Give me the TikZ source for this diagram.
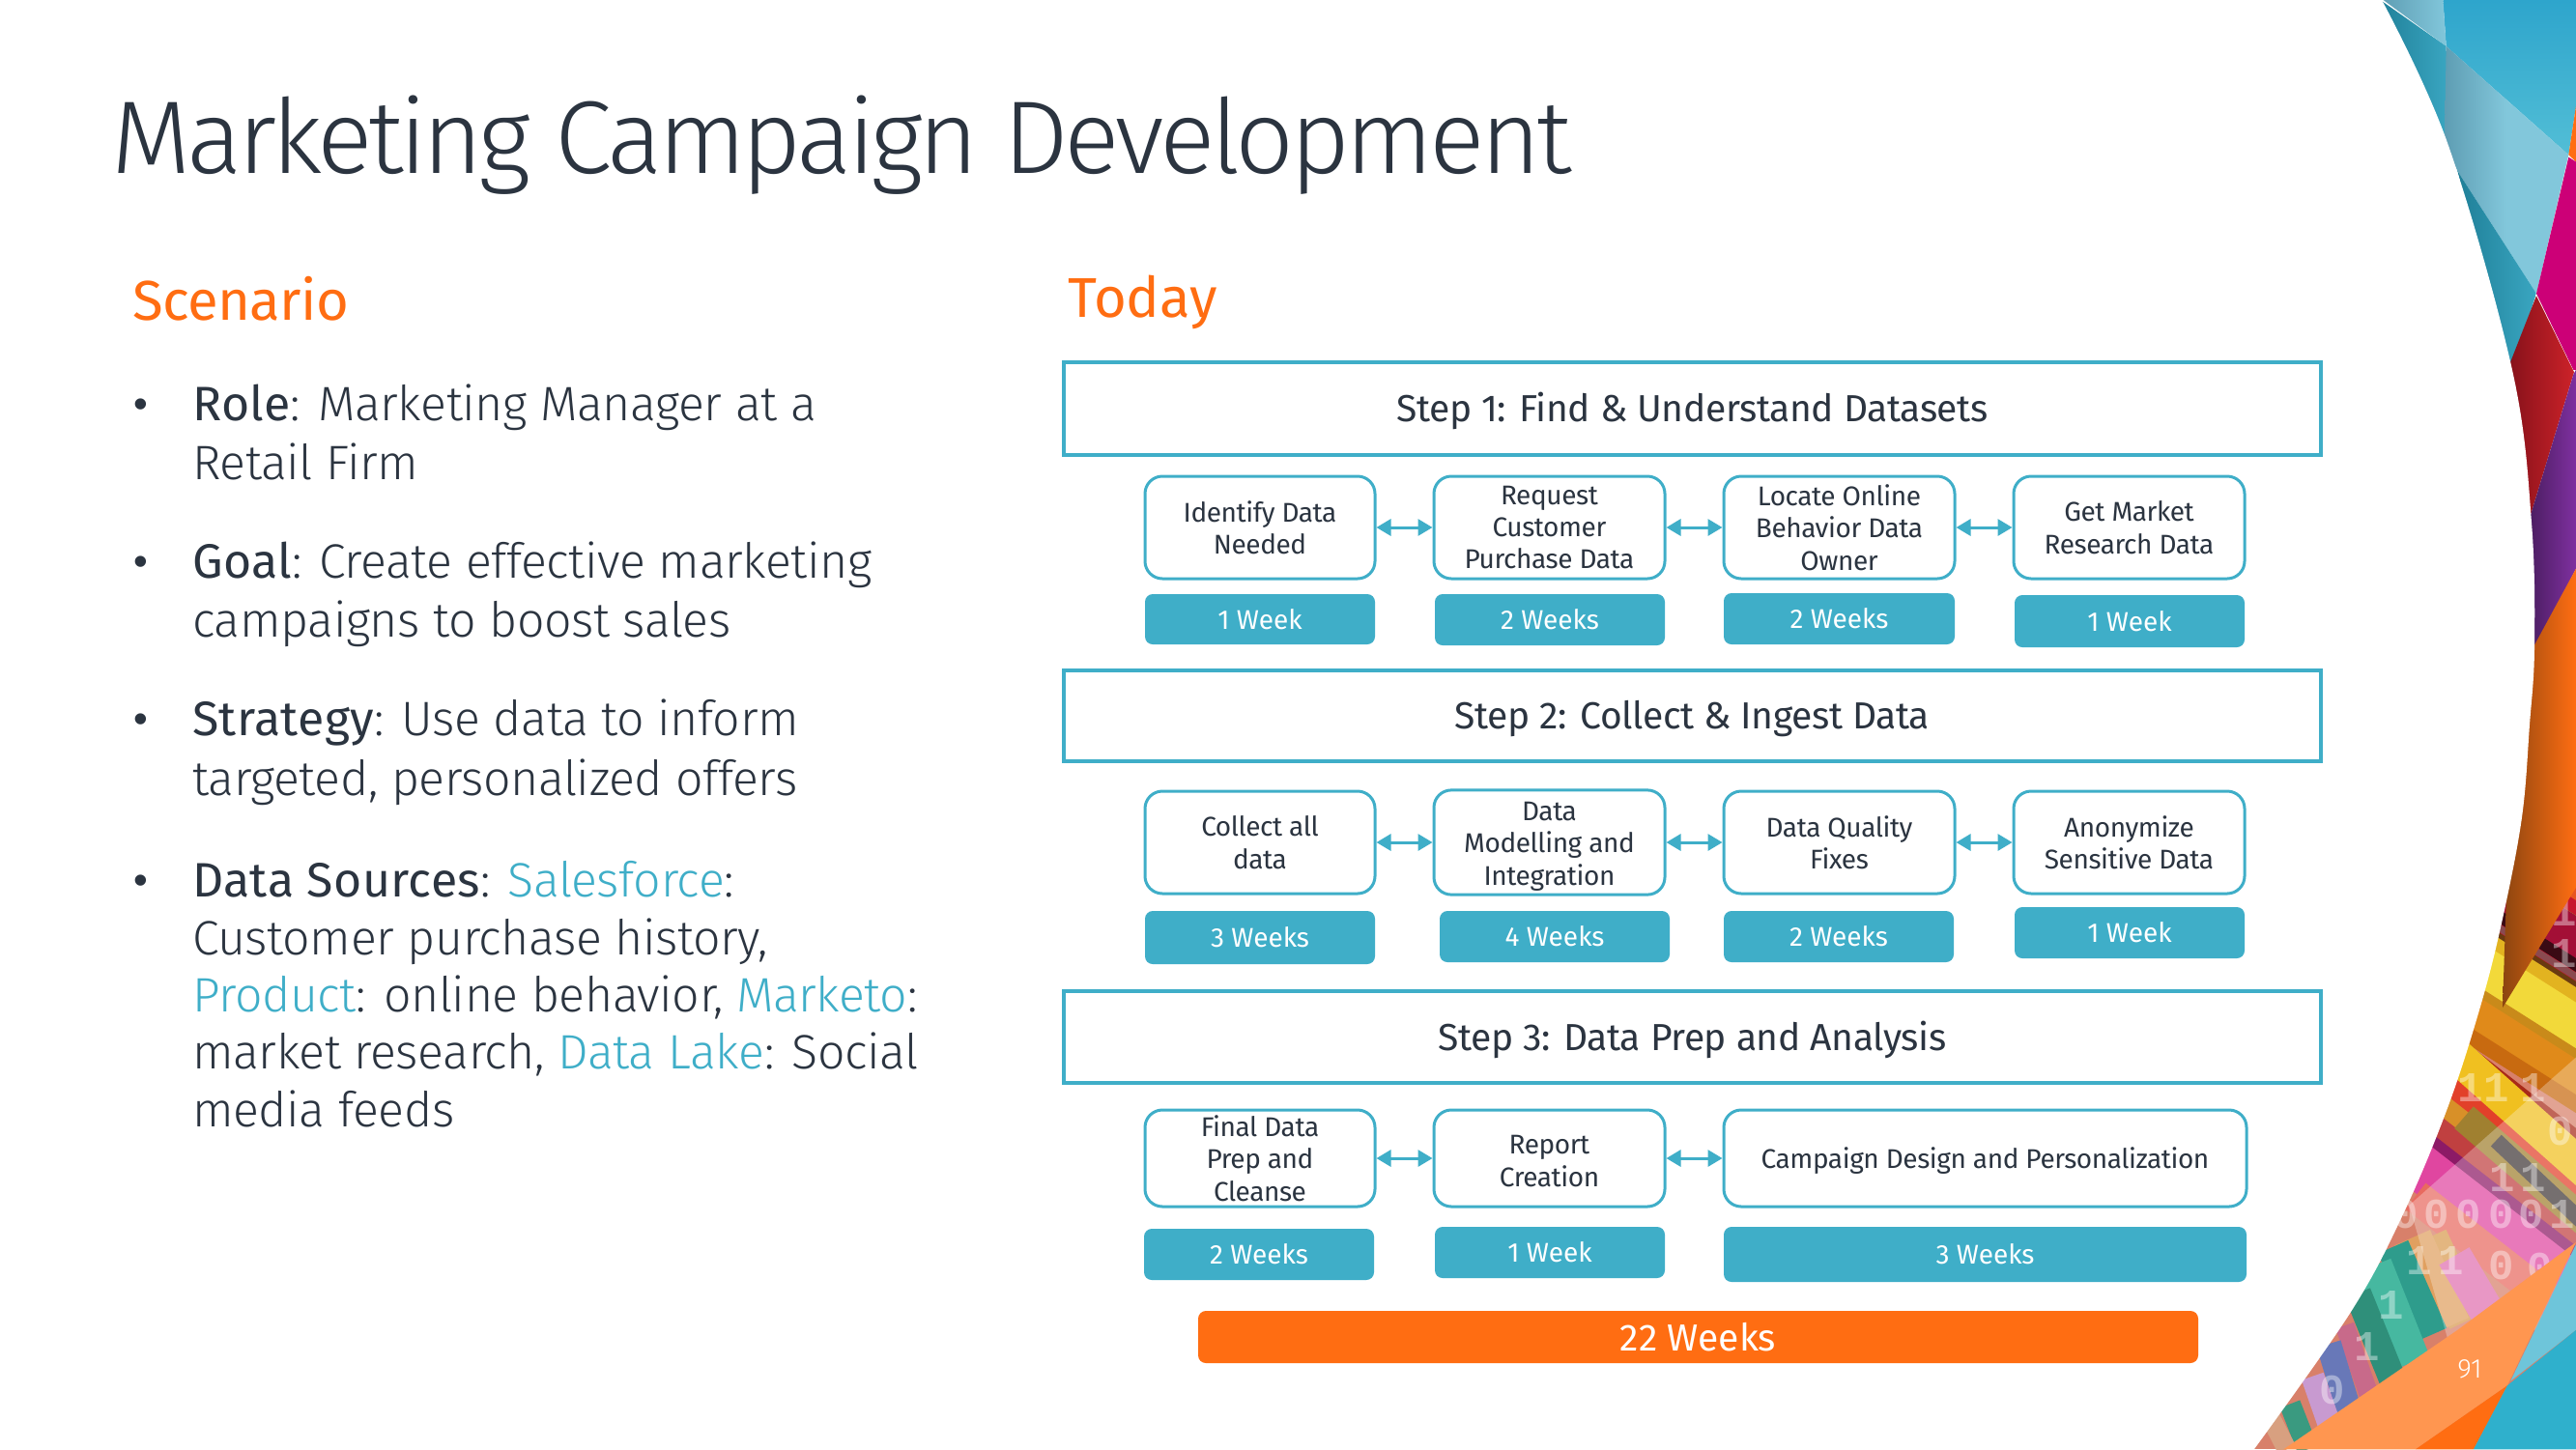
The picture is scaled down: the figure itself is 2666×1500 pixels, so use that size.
\documentclass[tikz,border=0pt]{standalone}
\usepackage{fontspec}
\usetikzlibrary{arrows.meta}
\setmainfont{Fira Sans}
\newfontfamily\lightf{Fira Sans Light}[LetterSpace=-0.8]
\newfontfamily\titlef{Fira Sans Light}[LetterSpace=-4.2]
\newfontfamily\regf{Fira Sans}
\newfontfamily\bodyregf{Fira Sans}[LetterSpace=0.8]
\newfontfamily\stepf{Fira Sans}[LetterSpace=-1.0]
\newfontfamily\taskf{Fira Sans}[LetterSpace=-1.5]
\newfontfamily\headf{Fira Sans}[LetterSpace=-1.0]
\newfontfamily\bulf{Liberation Sans}
\newfontfamily\digf{Liberation Mono}
\definecolor{teal1}{HTML}{3FAEC8}
\definecolor{ink}{HTML}{2B3440}
\definecolor{orng}{HTML}{FF6D12}
\newcommand\fs[2]{\fontsize{#1}{#2}\selectfont}
\tikzset{
 stepbox/.style={draw=teal1,line width=4pt,fill=white,text=ink,font=\stepf\fs{39}{47},inner sep=0pt},
 taskbox/.style={draw=teal1,line width=3pt,rounded corners=18pt,fill=white,text=ink,font=\taskf\fs{28}{33.4},align=center,inner sep=0pt},
 weekbox/.style={fill=teal1,rounded corners=8pt,text=white,font=\regf\fs{28}{33},inner sep=0pt},
 totalbox/.style={fill=orng,rounded corners=8pt,text=white,font=\regf\fs{39}{47},inner sep=0pt},
 link/.style={draw=teal1,line width=3pt,{Triangle[length=15pt,width=17pt]}-{Triangle[length=15pt,width=17pt]}},
 body/.style={anchor=base west,inner sep=0pt,text=ink,font=\lightf\fs{50}{60}},
 bul/.style={anchor=base west,inner sep=0pt,text=ink,font=\bulf\fs{42}{50}},
 head/.style={anchor=base west,inner sep=0pt,text=orng,font=\regf\fs{58}{70}},
 bit/.style={text=white,opacity=.4,font=\digf\bfseries\fs{44}{50},inner sep=0pt},
 zm/.style={shift={(2300,750)},x=0.3333pt,y=-0.4785pt},
 za/.style={shift={(2300,0)},x=0.3333pt,y=-0.4785pt},
}
\newcommand\bx[7]{%
 \pgfmathsetmacro\cxx{(#3+#5)/2}\pgfmathsetmacro\cyy{(#4+#6)/2}%
 \node[#2,minimum width={(#5-#3)*1pt},minimum height={(#6-#4)*1pt}] (#1) at (\cxx,\cyy) {#7};}
\newcommand\reg[1]{{\bodyregf #1}}
\newcommand\lnk[1]{\textcolor{teal1}{#1}}
\newcommand\dn[2]{\raisebox{0pt}[\dimexpr\height+#1pt*2\relax][\depth]{\begin{tabular}{@{}c@{}}#2\end{tabular}}}
\begin{document}
\begin{tikzpicture}[x=1pt,y=-1pt]
\useasboundingbox (0,0) rectangle (2666,1500);
\fill[white] (0,0) rectangle (2666,1500);
% ---- striped picture
\begin{scope}[zm]
\fill[fill={rgb,255:red,200;green,22;blue,44}] (0,100) rectangle (1098,700);
\definecolor{tmp}{HTML}{D8806A}
\fill[tmp] (0,700) rectangle (1098,1568);
\foreach \xa/\ya/\xb/\yb/\wd/\c in {
 600/60/1300/370/34/D93A1E, 600/130/1300/440/24/E8561E, 600/205/1300/515/10/A7A03A,
 600/250/1300/560/46/A30F36, 600/300/1300/610/12/3A0A14, 600/325/1300/635/7/8A4A50,
 600/355/1300/665/16/6A3A10, 600/390/1300/700/34/E2B320, 600/450/1300/760/56/F2D93A,
 600/505/1300/815/20/C98A1A, 600/545/1300/855/34/E08A1A, 600/600/1300/910/16/C86A10,
 600/640/1300/1020/28/A82A18, 600/690/1300/1070/18/2A1010, 600/730/1300/1110/30/E2402A,
 600/790/1300/1170/30/D89028, 600/850/1300/1230/34/C04040, 600/900/1300/1280/32/8C1A66,
 600/950/1300/1330/48/E046A0, 600/1020/1300/1400/34/E86A60,
 700/700/1200/1010/36/F0C020, 750/850/1200/1120/30/A08030, 850/900/1200/1130/16/403838,
 640/1110/760/1290/40/D99B50, 590/1110/710/1300/40/E0A060, 530/1130/650/1320/34/2E9C8C,
 470/1170/590/1380/38/46B8A0, 420/1230/530/1420/28/2F8F7A, 380/1300/460/1460/20/C86A8A,
 330/1340/400/1500/26/6878B8, 280/1410/345/1540/24/C89AD0, 210/1470/265/1568/22/3A9A80,
 150/1500/200/1568/20/D8A080, 720/1150/880/1340/36/E070B0}
 {\definecolor{tmp}{HTML}{\c}\draw[tmp,line width=\wd pt] (\xa,\ya) -- (\xb,\yb);}
\fill[white,opacity=.28] (580,1040) -- (1098,720) -- (1098,1300) -- (700,1330) -- cycle;
\foreach \px/\py/\t in {1060/215/0,1060/310/1,1060/405/1,1060/495/1,770/785/1,850/785/1,965/785/1,
 1050/880/0,870/980/1,965/980/1,570/1060/0,665/1060/0,765/1060/0,865/1060/0,960/1060/0,1055/1060/1,
 610/1160/1,710/1160/1,865/1170/0,985/1175/0,525/1255/1,450/1345/1,340/1440/0}
 {\node[bit] at (\px,\py) {\t};}
\definecolor{tmp}{HTML}{FF9650}
\fill[tmp] (190,1568) -- (730,1310) -- (1098,1120) -- (885,1430) -- (600,1568) -- cycle;
\fill[orng] (885,1430) -- (780,1568) -- (600,1568) -- cycle;
\definecolor{tmp}{HTML}{6EC5DA}
\fill[tmp] (1098,1125) -- (1098,1310) -- (895,1420) -- cycle;
\definecolor{tmp}{HTML}{2FB0CC}
\fill[tmp] (1098,1310) -- (1098,1568) -- (780,1568) -- (885,1430) -- cycle;
\end{scope}
% ---- facets at the top
\begin{scope}[za]
\shade[top color={rgb,255:red,46;green,165;blue,204},bottom color={rgb,255:red,82;green,190;blue,214}] (685,0) -- (1098,0) -- (1098,230) -- (1075,335) -- (695,100) -- cycle;
\definecolor{ca}{HTML}{1F7F98}\definecolor{cb}{HTML}{3AA6C1}\definecolor{cc}{HTML}{82C7DB}\definecolor{cd}{HTML}{5E9DB3}
\shade[left color=cd,right color=cc] (490,-5) -- (685,-5) -- (695,100) -- cycle;
\shade[left color=ca,right color=cb] (480,-5) -- (695,100) -- (700,330) -- cycle;
\shade[left color=cd,right color=cc,middle color=cc] (695,100) -- (1075,335) -- (975,635) -- (730,370) -- (690,310) -- cycle;
\shade[left color=ca,right color=cb] (730,370) -- (975,635) -- (890,815) -- cycle;
\fill[orng] (1075,335) -- (1098,230) -- (1098,350) -- cycle;
\definecolor{ce}{HTML}{CC0077}
\fill[ce] (1075,340) -- (1098,350) -- (1098,800) -- (1090,800) -- (975,635) -- cycle;
\definecolor{cf}{HTML}{CC2229}\definecolor{cg}{HTML}{85111A}
\shade[left color=cg,right color=cf] (975,640) -- (1092,805) -- (950,1130) -- (885,800) -- cycle;
\definecolor{ch}{HTML}{7F30A0}\definecolor{ci}{HTML}{4A1D60}
\shade[left color=ci,right color=ch] (1090,810) -- (1098,800) -- (1098,1230) -- (960,1420) -- (950,1130) -- cycle;
\definecolor{cj}{HTML}{8B4510}
\shade[left color=cj,right color=orng] (950,1420) -- (1098,1230) -- (1098,1568) -- (1098,1920) -- (870,2180) -- (900,1568) -- cycle;
\end{scope}
% ---- white slide area
\fill[white] (0,0) -- (2465,0) -- plot[smooth,tension=.6] coordinates {(2465,0) (2533,148) (2600,383) (2620,541) (2623,670) (2618,750) (2610,846) (2590,951) (2567,1042) (2533,1147) (2487,1257) (2433,1358) (2333,1500)} -- (0,1500) -- cycle;
\node[anchor=center,inner sep=0pt,text=white,font=\lightf\fs{28}{33}] (pageno) at (2556,1417) {91};
% ---- title and left column
\node[anchor=base west,inner sep=0pt,text=ink,font=\titlef\fs{107}{120}] (title) at (115,179) {Marketing Campaign Development};
\node[head,font=\headf\fs{58}{70}] (scen) at (137,331) {Scenario};
\node[head] (today) at (1105,328) {Today};
\foreach \nm/\yy in {b1/432,b2/595,b3/758,b4/925}{\node[bul] (\nm) at (138,\yy) {•};}
\node[body] (l1) at (199,435) {\reg{Role}: Marketing Manager at a};
\node[body] (l2) at (199,496) {Retail Firm};
\node[body] (l3) at (199,598) {\reg{Goal}: Create effective marketing};
\node[body] (l4) at (199,659) {campaigns to boost sales};
\node[body] (l5) at (199,761) {\reg{Strategy}: Use data to inform};
\node[body] (l6) at (199,823) {targeted, personalized offers};
\node[body] (l7) at (199,928) {\reg{Data Sources}: \lnk{Salesforce}:};
\node[body] (l8) at (199,988) {Customer purchase history,};
\node[body] (l9) at (199,1047) {\lnk{Product}: online behavior, \lnk{Marketo}:};
\node[body] (l10) at (199,1106) {market research, \lnk{Data Lake}: Social};
\node[body] (l11) at (199,1166) {media feeds};
% ---- step banners
\bx{s1}{stepbox}{1101}{375}{2402}{471}{\dn{4.5}{Step 1: Find \& Understand Datasets}}
\bx{s2}{stepbox}{1101}{694}{2402}{788}{\dn{4.5}{Step 2: Collect \& Ingest Data}}
\bx{s3}{stepbox}{1101}{1026}{2402}{1121}{\dn{4.5}{Step 3: Data Prep and Analysis}}
% ---- row 1
\bx{a1}{taskbox}{1185}{493}{1423}{599}{Identify Data\\Needed}
\bx{a2}{taskbox}{1484}{493}{1723}{599}{Request\\Customer\\Purchase Data}
\bx{a3}{taskbox}{1784}{493}{2023}{599}{Locate Online\\Behavior Data\\Owner}
\bx{a4}{taskbox}{2084}{493}{2323}{599}{Get Market\\Research Data}
\bx{w1}{weekbox}{1185}{615}{1423}{667}{1 Week}
\bx{w2}{weekbox}{1485}{615}{1723}{668}{2 Weeks}
\bx{w3}{weekbox}{1784}{614}{2023}{667}{2 Weeks}
\bx{w4}{weekbox}{2085}{616}{2323}{670}{1 Week}
% ---- row 2
\bx{c1}{taskbox}{1185}{819}{1423}{925}{Collect all\\data}
\bx{c2}{taskbox}{1484}{819}{1723}{925}{\dn{4}{Data\\Modelling and\\Integration}}
\bx{c3}{taskbox}{1784}{819}{2023}{925}{Data Quality\\Fixes}
\bx{c4}{taskbox}{2084}{819}{2323}{925}{Anonymize\\Sensitive Data}
\bx{x1}{weekbox}{1185}{943}{1423}{998}{3 Weeks}
\bx{x2}{weekbox}{1490}{943}{1728}{996}{4 Weeks}
\bx{x3}{weekbox}{1784}{943}{2022}{996}{2 Weeks}
\bx{x4}{weekbox}{2085}{939}{2323}{992}{1 Week}
% ---- row 3
\bx{d1}{taskbox}{1185}{1149}{1423}{1249}{Final Data\\Prep and\\Cleanse}
\bx{d2}{taskbox}{1484}{1149}{1723}{1249}{\dn{6}{Report\\Creation}}
\bx{d3}{taskbox}{1784}{1149}{2325}{1249}{\dn{3.5}{Campaign Design and Personalization}}
\bx{y1}{weekbox}{1184}{1272}{1422}{1325}{2 Weeks}
\bx{y2}{weekbox}{1485}{1270}{1723}{1323}{1 Week}
\bx{y3}{weekbox}{1784}{1270}{2325}{1327}{3 Weeks}
\bx{tot}{totalbox}{1240}{1357}{2275}{1411}{22 Weeks}
% ---- connectors
\foreach \p/\q in {a1/a2,a2/a3,a3/a4,c1/c2,c2/c3,c3/c4,d1/d2,d2/d3}
 {\draw[link] (\p) -- (\q);}
\end{tikzpicture}
\end{document}
